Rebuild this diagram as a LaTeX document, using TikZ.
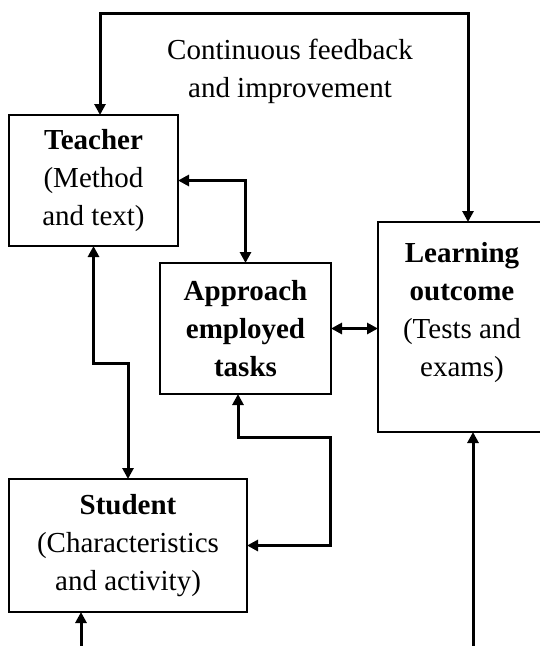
\documentclass[tikz,border=0pt]{standalone}
\usepackage{fontspec}
\setmainfont{Liberation Serif}
\usetikzlibrary{arrows.meta}

\begin{document}
\begin{tikzpicture}[x=1pt, y=-1pt,
    box/.style={draw, line width=2.4pt, align=center, inner sep=0pt, outer sep=0pt, font=\fontsize{29}{38}\selectfont},
    link/.style={{Triangle[length=11pt,width=11pt]}-{Triangle[length=11pt,width=11pt]}, line width=3pt},
    feed/.style={-{Triangle[length=11pt,width=11pt]}, line width=3pt}]
    \useasboundingbox (0,0) rectangle (540,646);
    \clip (0,0) rectangle (540,646);

    \node[box, minimum width=169pt, minimum height=131pt] (teacher) at (93.5,180.5) {\textbf{Teacher}\\(Method\\and text)};
    \node[box, minimum width=171pt, minimum height=131pt] (approach) at (245.5,328.5) {\textbf{Approach}\\\textbf{employed}\\\textbf{tasks}};
    \node[box, minimum width=168pt, minimum height=210pt] (learn) at (462,327) {\textbf{Learning}\\\textbf{outcome}\\(Tests and\\exams)\\[-3pt]};
    \node[box, minimum width=238pt, minimum height=133pt] (student) at (128,545.5) {\textbf{Student}\\(Characteristics\\and activity)};
    \node[font=\fontsize{29}{38}\selectfont, align=center] (fbtext) at (290,71) {Continuous feedback\\and improvement};

    % bends of the connectors
    \coordinate (fbL) at (100,13);
    \coordinate (fbR) at (468,13);
    \coordinate (tsmid) at (128,363);
    \coordinate (asA) at (238,437);
    \coordinate (asB) at (330,437);
    \coordinate (inS) at (81,650);
    \coordinate (inL) at (473,650);

    \draw[link] (teacher.north -| fbL) -- (fbL) -- (fbR) -- (learn.north -| fbR);
    \draw[link] (teacher.east) -| (approach.north);
    \draw[link] (teacher.south) |- (tsmid) -- (student.north);
    \draw[link] (approach.south -| asA) -- (asA) -- (asB) |- (student.east);
    \draw[link] (approach.east) -- (learn.west |- approach.east);
    \draw[feed] (inS) -- (student.south -| inS);
    \draw[feed] (inL) -- (learn.south -| inL);
\end{tikzpicture}
\end{document}
